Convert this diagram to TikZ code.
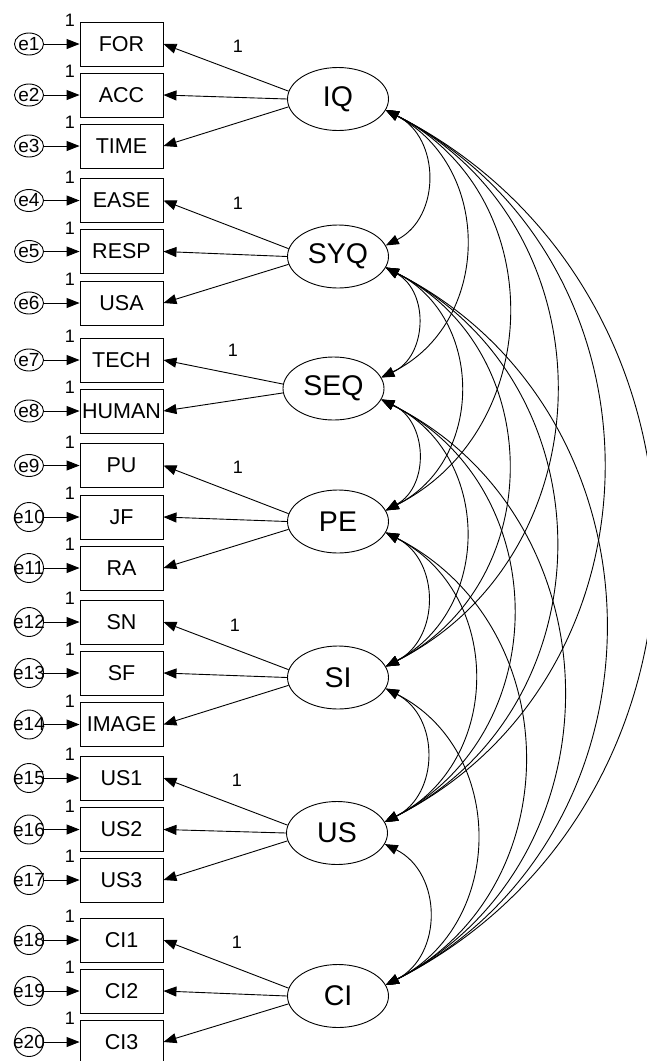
\documentclass[tikz,border=0pt]{standalone}
\usepackage{fontspec}
\setmainfont{Liberation Sans}
\usetikzlibrary{arrows.meta,shapes.geometric}
\begin{document}
\begin{tikzpicture}[x=1pt,y=-1pt,
  line width=0.9pt,
  tip/.tip={Triangle[length=13pt,width=10pt]},
  obs/.style={draw, rectangle, minimum width=83pt, minimum height=44pt, inner sep=0pt,
              font=\fontsize{21.5}{24}\selectfont},
  lat/.style={draw, ellipse, minimum width=101pt, minimum height=63pt, inner sep=0pt,
              font=\fontsize{28.5}{30}\selectfont},
  errtxt/.style={inner sep=0pt, font=\fontsize{19}{21}\selectfont},
  errs/.style={draw, ellipse, minimum width=29pt, minimum height=22pt, inner sep=0pt},
  errc/.style={draw, circle, minimum size=29pt, inner sep=0pt},
  one/.style={inner sep=0pt, font=\fontsize{18}{20}\selectfont},
  arr/.style={-tip},
  cov/.style={tip-tip, bend left=63, looseness=1.17}]

\useasboundingbox (0,0) rectangle (646,1061);

% observed variables, their error terms and the fixed "1" weights
\foreach \v/\y/\e/\s in {FOR/44/1/errs, ACC/95/2/errs, TIME/146/3/errs,
    EASE/200.5/4/errs, RESP/251.5/5/errs, USA/303/6/errs,
    TECH/360/7/errs, HUMAN/411/8/errs,
    PU/465.5/9/errs, JF/517/10/errc, RA/568/11/errc,
    SN/622/12/errc, SF/673/13/errc, IMAGE/724.5/14/errc,
    US1/778/15/errc, US2/829.5/16/errc, US3/880/17/errc,
    CI1/940/18/errc, CI2/991/19/errc, CI3/1042/20/errc}{
  \node[obs] (\v) at (121.5,\y) {\v};
  \node[\s, label={[errtxt]center:e\e}] (e\e) at (29,\y) {};
  \node[one] (w\e) at (70,\y-23.5) {1};
  \draw[arr] (e\e) -- (\v.west);
}

% latent factors
\node[lat] (IQ)  at (338,99)    {IQ};
\node[lat] (SYQ) at (338,256.5) {SYQ};
\node[lat] (SEQ) at (333.5,388.5) {SEQ};
\node[lat] (PE)  at (338,521.5) {PE};
\node[lat] (SI)  at (338,677.5) {SI};
\node[lat] (US)  at (337,833)   {US};
\node[lat] (CI)  at (338,996)   {CI};

% factor loadings
\foreach \f/\a/\b/\c in {IQ/FOR/ACC/TIME, SYQ/EASE/RESP/USA, PE/PU/JF/RA,
    SI/SN/SF/IMAGE, US/US1/US2/US3, CI/CI1/CI2/CI3}{
  \draw[arr] (\f.171) -- (\a.east);
  \draw[arr] (\f.180) -- (\b.east);
  \draw[arr] (\f.189) -- (\c.east);
}
\draw[arr] (SEQ.175) -- (TECH.east);
\draw[arr] (SEQ.185) -- (HUMAN.east);

% fixed loadings
\node[one] (fIQ)  at (238,46)  {1};
\node[one] (fSYQ) at (238,203) {1};
\node[one] (fSEQ) at (233,350) {1};
\node[one] (fPE)  at (238,467) {1};
\node[one] (fSI)  at (235,625) {1};
\node[one] (fUS)  at (237,780) {1};
\node[one] (fCI)  at (237,942) {1};

% factor covariances
\foreach \a/\b in {IQ/SYQ, IQ/SEQ, IQ/PE, IQ/SI, IQ/US, IQ/CI,
    SYQ/SEQ, SYQ/PE, SYQ/SI, SYQ/US, SYQ/CI,
    SEQ/PE, SEQ/SI, SEQ/US, SEQ/CI,
    PE/SI, PE/US, PE/CI,
    SI/US, SI/CI,
    US/CI}{
  \draw[cov] (\a.-13) to (\b.13);
}
\end{tikzpicture}
\end{document}
